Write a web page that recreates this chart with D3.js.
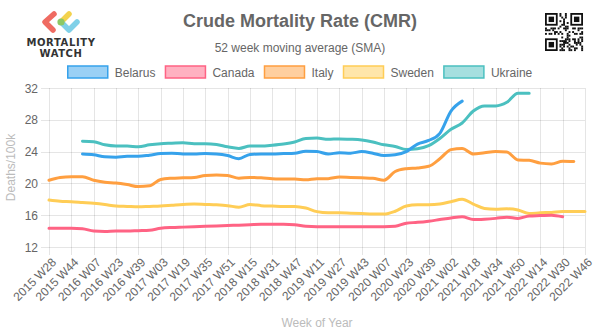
<!DOCTYPE html>
<html>
<head>
<meta charset="utf-8">
<script src="https://cdn.jsdelivr.net/npm/d3@7"></script>
<style>
  body { margin: 0; background: #fff; }
  svg { display: block; font-family: "Helvetica Neue", Helvetica, Arial, "Liberation Sans", sans-serif; }
</style>
</head>
<body>
<svg id="chart" width="600" height="335"></svg>
<script>
// x tick labels, one every 16 weeks starting at 2015 W28
const tickLabels = [
  '2015 W28', '2015 W44', '2016 W07', '2016 W23', '2016 W39', '2017 W03', '2017 W19',
  '2017 W35', '2017 W51', '2018 W15', '2018 W31', '2018 W47', '2019 W11', '2019 W27',
  '2019 W43', '2020 W07', '2020 W23', '2020 W39', '2021 W02', '2021 W18', '2021 W34',
  '2021 W50', '2022 W14', '2022 W30', '2022 W46'
];
const TICK_EVERY = 16;   // weeks between labelled ticks
const STEP = 8;          // weeks between series samples
const yTicks = [12, 16, 20, 24, 28, 32];

// deaths per 100k, 52 week SMA, sampled every 8 weeks from 2015 W28
const belarus = [null, null, null,
  23.7, 23.6, 23.35, 23.3, 23.4, 23.4, 23.55, 23.75, 23.8, 23.7, 23.7, 23.75, 23.7, 23.5,
  23.1, 23.65, 23.7, 23.7, 23.75, 23.8, 24.05, 24.0, 23.7, 23.85, 23.8, 24.0, 23.8, 23.5,
  23.6, 24.0, 24.95, 25.4, 26.3, 29.1, 30.35];
const canada = [
  14.35, 14.35, 14.35, 14.3, 14.0, 13.95, 14.0, 14.0, 14.05, 14.1, 14.35, 14.45, 14.5,
  14.55, 14.6, 14.65, 14.7, 14.75, 14.8, 14.85, 14.85, 14.85, 14.8, 14.6, 14.55, 14.55,
  14.55, 14.55, 14.55, 14.55, 14.55, 14.6, 15.0, 15.1, 15.25, 15.45, 15.65, 15.8, 15.45,
  15.5, 15.6, 15.75, 15.6, 15.9, 15.95, 16.0, 15.8];
const italy = [
  20.4, 20.75, 20.85, 20.85, 20.4, 20.15, 20.05, 19.85, 19.6, 19.7, 20.5, 20.65, 20.7,
  20.75, 21.0, 21.05, 21.0, 20.65, 20.75, 20.7, 20.6, 20.55, 20.55, 20.45, 20.6, 20.6,
  20.8, 20.75, 20.7, 20.65, 20.4, 21.5, 21.85, 21.95, 22.15, 23.1, 24.25, 24.4, 23.7,
  23.85, 24.0, 23.95, 22.95, 22.9, 22.55, 22.45, 22.8, 22.75];
const sweden = [
  17.9, 17.75, 17.7, 17.6, 17.5, 17.35, 17.15, 17.1, 17.05, 17.1, 17.15, 17.25, 17.35,
  17.4, 17.35, 17.3, 17.2, 17.0, 17.35, 17.2, 17.15, 17.1, 17.1, 16.9, 16.45, 16.3,
  16.3, 16.25, 16.2, 16.15, 16.15, 16.5, 17.15, 17.3, 17.3, 17.4, 17.7, 18.0, 17.4,
  16.85, 16.75, 16.8, 16.65, 16.2, 16.3, 16.35, 16.45, 16.45, 16.45];
const ukraine = [null, null, null,
  25.3, 25.25, 24.85, 24.7, 24.7, 24.6, 24.85, 25.0, 25.05, 25.1, 25.0, 25.0, 24.9, 24.6,
  24.4, 24.7, 24.7, 24.8, 24.95, 25.2, 25.65, 25.7, 25.55, 25.6, 25.55, 25.45, 25.2, 24.85,
  24.65, 24.25, 24.35, 24.75, 25.65, 26.8, 27.6, 29.1, 29.75, 29.75, 30.2, 31.35, 31.35];

const seriesNames = ['Belarus', 'Canada', 'Italy', 'Sweden', 'Ukraine'];
const seriesValues = [belarus, canada, italy, sweden, ukraine];
const seriesColors = ['rgb(54,162,235)', 'rgb(255,99,132)', 'rgb(255,159,64)', 'rgb(255,205,86)', 'rgb(75,192,192)'];

const svg = d3.select('#chart');
const plot = {left: 49, right: 585, top: 88, bottom: 247};
const lastWeek = (tickLabels.length - 1) * TICK_EVERY;

const x = d3.scaleLinear().domain([0, lastWeek]).range([plot.left, plot.right]);
const y = d3.scaleLinear().domain([12, 32]).range([plot.bottom, plot.top]);

// title block
svg.append('text')
  .attr('x', 300).attr('y', 27)
  .attr('text-anchor', 'middle')
  .attr('font-size', 18).attr('font-weight', 'bold')
  .attr('fill', '#666')
  .text('Crude Mortality Rate (CMR)');
svg.append('text')
  .attr('x', 300).attr('y', 52)
  .attr('text-anchor', 'middle')
  .attr('font-size', 12)
  .attr('fill', '#666')
  .text('52 week moving average (SMA)');

// logo: dotted chevrons + wordmark
const logo = svg.append('g').attr('class', 'logo');
const logoStrokes = [
  {pts: [[54, 14], [45, 22], [53, 30]], color: '#ef6b62'},
  {pts: [[69, 14], [61, 22]], color: '#f3d24d'},
  {pts: [[61, 22], [69, 30], [77, 22]], color: '#7fd0e8'}
];
logoStrokes.forEach(s => {
  logo.append('path')
    .attr('d', d3.line()(s.pts))
    .attr('fill', 'none')
    .attr('stroke', s.color)
    .attr('stroke-width', 5.5)
    .attr('stroke-linecap', 'round')
    .attr('stroke-linejoin', 'round');
});
logo.append('circle').attr('cx', 61).attr('cy', 22).attr('r', 3.6).attr('fill', '#8cc865');
logo.append('text').attr('x', 61).attr('y', 46)
  .attr('text-anchor', 'middle').attr('font-size', 10).attr('font-weight', 'bold')
  .attr('font-family', '"DejaVu Sans", sans-serif')
  .attr('letter-spacing', 0.6).attr('fill', '#333')
  .text('MORTALITY');
logo.append('text').attr('x', 61).attr('y', 57)
  .attr('text-anchor', 'middle').attr('font-size', 10).attr('font-weight', 'bold')
  .attr('font-family', '"DejaVu Sans", sans-serif')
  .attr('letter-spacing', 0.6).attr('fill', '#333')
  .text('WATCH');

// qr-style badge, top right
const qr = svg.append('g').attr('transform', 'translate(545,13)');
const QN = 21, QS = 38 / QN;
const finder = (cx, cy) => {
  qr.append('rect').attr('x', cx * QS).attr('y', cy * QS).attr('width', 7 * QS).attr('height', 7 * QS).attr('fill', '#111');
  qr.append('rect').attr('x', (cx + 1) * QS).attr('y', (cy + 1) * QS).attr('width', 5 * QS).attr('height', 5 * QS).attr('fill', '#fff');
  qr.append('rect').attr('x', (cx + 2) * QS).attr('y', (cy + 2) * QS).attr('width', 3 * QS).attr('height', 3 * QS).attr('fill', '#111');
};
const inFinder = (i, j) => (i < 8 && j < 8) || (i > QN - 9 && j < 8) || (i < 8 && j > QN - 9);
const seed = 'https://www.mortality.watch/explorer';
for (let i = 0; i < QN; i++) {
  for (let j = 0; j < QN; j++) {
    if (inFinder(i, j)) continue;
    const c = seed.charCodeAt((i * 7 + j * 3) % seed.length);
    if (((c * (i + 3) + j * 11 + i * j) % 7) < 3) {
      qr.append('rect').attr('x', i * QS).attr('y', j * QS).attr('width', QS + 0.1).attr('height', QS + 0.1).attr('fill', '#111');
    }
  }
}
finder(0, 0); finder(QN - 7, 0); finder(0, QN - 7);

// legend, centred
const legend = svg.append('g').attr('class', 'legend');
const items = legend.selectAll('g').data(seriesNames).enter().append('g');
items.append('rect')
  .attr('width', 40).attr('height', 12).attr('y', 66)
  .attr('fill', (d, i) => seriesColors[i].replace('rgb', 'rgba').replace(')', ',0.5)'))
  .attr('stroke', (d, i) => seriesColors[i])
  .attr('stroke-width', 1.5);
items.append('text')
  .attr('x', 47).attr('y', 76.5)
  .attr('font-size', 12).attr('fill', '#666')
  .text(d => d);
let widths = [];
items.each(function () { widths.push(47 + this.querySelector('text').getComputedTextLength()); });
const total = d3.sum(widths) + 10 * (widths.length - 1);
let cursor = 300 - total / 2;
items.attr('transform', (d, i) => { const t = `translate(${cursor},0)`; cursor += widths[i] + 10; return t; });

// grid
const grid = svg.append('g').attr('stroke', 'rgba(0,0,0,0.1)').attr('stroke-width', 1);
const xTickIdx = d3.range(tickLabels.length).map(i => i * TICK_EVERY);
grid.selectAll('line.v').data(xTickIdx).enter().append('line')
  .attr('x1', d => Math.round(x(d)) + 0.5).attr('x2', d => Math.round(x(d)) + 0.5)
  .attr('y1', plot.top).attr('y2', plot.bottom + 8);
grid.selectAll('line.h').data(yTicks).enter().append('line')
  .attr('x1', plot.left - 8).attr('x2', plot.right)
  .attr('y1', d => Math.round(y(d)) + 0.5).attr('y2', d => Math.round(y(d)) + 0.5);

// y tick labels
svg.append('g').selectAll('text').data(yTicks).enter().append('text')
  .attr('x', 38).attr('y', d => y(d) + 4.5)
  .attr('text-anchor', 'end').attr('font-size', 12).attr('fill', '#666')
  .text(d => d);

// x tick labels, rotated 45 degrees
svg.append('g').selectAll('text').data(xTickIdx).enter().append('text')
  .attr('transform', d => `translate(${x(d) + 5},${plot.bottom + 13}) rotate(-45)`)
  .attr('text-anchor', 'end').attr('font-size', 12).attr('fill', '#666')
  .attr('dy', '0.35em')
  .text((d, i) => tickLabels[i]);

// axis titles
svg.append('text')
  .attr('transform', `translate(15,${(plot.top + plot.bottom) / 2}) rotate(-90)`)
  .attr('text-anchor', 'middle').attr('font-size', 12).attr('fill', '#bbb')
  .text('Deaths/100k');
svg.append('text')
  .attr('x', (plot.left + plot.right) / 2).attr('y', 327)
  .attr('text-anchor', 'middle').attr('font-size', 12).attr('fill', '#bbb')
  .text('Week of Year');

// series lines; first series drawn last so it sits on top
const line = d3.line()
  .defined(d => d != null)
  .x((d, i) => x(i * STEP))
  .y(d => y(d))
  .curve(d3.curveMonotoneX);
const lines = svg.append('g').attr('fill', 'none');
seriesValues.slice().reverse().forEach((vals, k) => {
  const i = seriesValues.length - 1 - k;
  lines.append('path')
    .datum(vals)
    .attr('d', line)
    .attr('stroke', seriesColors[i])
    .attr('stroke-width', 3)
    .attr('stroke-linejoin', 'round')
    .attr('stroke-linecap', 'round');
});
</script>
</body>
</html>
